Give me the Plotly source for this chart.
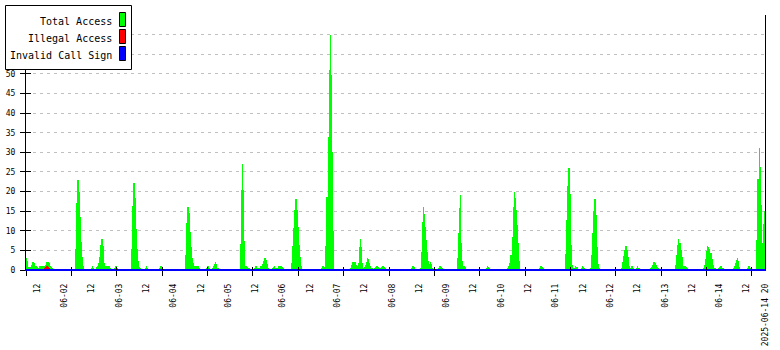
import plotly.graph_objects as go

# ---------------- data ----------------
# time axis: hours since 2025-06-01 00:00
T_START = 7.08
T_END = 332.0
STEP = 0.44          # sample interval in hours
TICK_STEP = 19.95    # spacing of the unlabeled tick marks (hours)

# (start hour, consecutive sample values)
total_segments = [
    (7.30, [3.0, 2.3, 0.8, 0.8, 0.8, 1.4, 2.0, 1.7, 1.1, 1.1, 0.8, 0.3, 0.3,
            1.1, 1.1, 1.1, 1.1, 1.1, 1.1, 1.4, 2.0, 2.0, 1.7, 1.1, 0.8, 0.3]),
    (29.28, [5.4, 17.2, 23.0, 19.8, 13.6, 7.2, 3.2, 1.1]),
    (35.88, [0.6, 1.1, 0.6]),
    (38.08, [0.8, 1.0, 1.8, 3.4, 6.3, 8.0, 6.0, 1.8, 0.6, 1.0, 1.0, 1.0, 1.0, 0.6]),
    (45.99, [0.4, 1.0, 1.0, 0.5]),
    (53.47, [5.4, 16.4, 22.1, 18.3, 10.5, 5.4, 2.4, 0.8, 0.3]),
    (59.62, [0.5, 1.0, 0.6]),
    (65.78, [0.5, 1.0, 0.5]),
    (77.21, [3.8, 12.0, 16.1, 14.5, 9.6, 5.8, 3.0, 1.7, 0.7, 1.0, 1.0, 1.0, 1.0, 0.6]),
    (86.44, [0.3, 1.0, 1.0, 0.6]),
    (89.08, [0.3, 1.0, 1.5, 2.0, 1.5, 0.6]),
    (101.39, [6.6, 20.4, 27.1, 20.4, 7.5, 1.0, 1.0, 0.7, 0.3]),
    (107.55, [0.6, 1.0, 0.6, 0.3, 0.3, 0.6, 1.0, 1.0, 1.6, 2.4, 3.1, 2.6, 1.5, 0.5]),
    (115.46, [0.3, 0.7, 1.0, 0.6, 0.3, 0.6, 1.0, 1.0, 1.0, 0.7, 0.3]),
    (124.25, [1.8, 6.0, 10.6, 15.4, 18.1, 15.3, 10.9, 6.4, 3.2, 1.0]),
    (137.44, [0.5, 1.0, 0.7, 0.4, 6.1, 18.7, 33.8, 51.1, 60.0, 49.8, 30.0, 10.0]),
    (150.19, [0.3, 1.4, 2.0, 2.0, 2.0, 1.4, 1.0, 1.7, 5.9, 8.0, 5.9, 1.8, 0.3,
              0.7, 1.3, 2.1, 3.1, 2.8, 1.8, 0.9, 0.3]),
    (160.31, [0.3, 0.7, 1.0, 0.7, 0.3]),
    (163.38, [0.3, 0.7, 1.0, 0.7, 0.3]),
    (176.58, [0.4, 1.1, 0.8, 0.2]),
    (180.53, [0.4, 4.6, 12.3, 16.1, 14.3, 11.0, 7.7, 4.7, 2.2, 1.5, 2.0, 1.5, 0.6]),
    (188.45, [0.4, 1.0, 0.7, 0.6]),
    (196.80, [3.1, 9.5, 15.8, 19.2, 6.9, 2.4, 0.9, 0.7]),
    (209.55, [0.4, 1.0, 0.7, 0.3]),
    (219.22, [0.3, 0.9, 1.8, 3.8, 8.3, 16.1, 19.9, 18.4, 15.3, 11.5, 6.9, 2.3]),
    (233.29, [0.5, 1.0, 0.7, 0.3]),
    (244.72, [4.1, 12.8, 21.5, 26.1, 19.4, 6.4, 1.3, 0.3, 0.6, 1.0, 0.7, 0.7]),
    (251.32, [0.4, 1.0, 0.8, 0.6]),
    (255.28, [0.4, 3.8, 9.4, 15.1, 18.1, 14.1, 5.9, 1.5, 0.3]),
    (268.91, [0.5, 2.0, 3.6, 5.1, 6.1, 5.1, 3.2, 0.9]),
    (273.30, [0.6, 1.0, 0.6]),
    (275.50, [0.6, 1.0, 0.6, 0.3]),
    (281.66, [0.3, 0.8, 1.3, 2.0, 1.8, 1.2, 0.7, 0.3]),
    (292.65, [1.3, 3.8, 6.4, 7.9, 7.0, 5.1, 3.2, 1.0, 0.5, 1.0, 0.8, 0.5]),
    (304.96, [0.3, 1.3, 2.9, 4.9, 6.1, 5.8, 5.3, 4.3, 2.7, 1.3, 0.6, 0.3]),
    (311.99, [0.3, 0.8, 1.0, 0.6, 0.3]),
    (318.15, [0.5, 1.1, 1.8, 2.5, 3.1, 2.3, 0.8]),
    (324.31, [0.4, 1.0, 0.6, 0.3]),
    (328.70, [7.7, 23.3, 31.2, 26.3, 16.6, 6.9, 11.8, 15.1]),
]

illegal_segments = [
    (15.65, [0.3, 0.8, 0.9, 0.7, 0.3]),
]

invalid_times = [T_START, T_END]
invalid_values = [0, 0]

label_hours = [12, 24, 36, 48, 60, 72, 84, 96, 108, 120, 132, 144, 156, 168,
               180, 192, 204, 216, 228, 240, 252, 264, 276, 288, 300, 312, 324, 332]
label_text = ["12", "06-02", "12", "06-03", "12", "06-04", "12", "06-05", "12",
              "06-06", "12", "06-07", "12", "06-08", "12", "06-09", "12", "06-10",
              "12", "06-11", "12", "06-12", "12", "06-13", "12", "06-14", "12",
              "2025-06-14 20"]

y_ticks = [0, 5, 10, 15, 20, 25, 30, 35, 40, 45, 50, 55, 60, 65]
# labels above 50 sit under the legend box in the reference
y_tick_text = ["0", "5", "10", "15", "20", "25", "30", "35", "40", "45", "50", "", "", ""]

legend_names = ["Total Access", "Illegal Access", "Invalid Call Sign"]
legend_colors = ["#00ff00", "#ff0000", "#0000ff"]


def expand(segments):
    xs, ys = [], []
    for start, vals in segments:
        for i, v in enumerate(vals):
            xs.append(start + i * STEP)
            ys.append(v)
    return xs, ys


tx, ty = expand(total_segments)
ix, iy = expand(illegal_segments)
tick_hours = [T_START + k * TICK_STEP for k in range(17)]

FONT = "DejaVu Sans Mono"

fig = go.Figure()
fig.add_trace(go.Bar(x=tx, y=ty, width=STEP, name=legend_names[0],
                     marker=dict(color=legend_colors[0], line=dict(width=0)),
                     showlegend=False, hoverinfo="x+y"))
fig.add_trace(go.Bar(x=ix, y=iy, width=STEP, name=legend_names[1],
                     marker=dict(color=legend_colors[1], line=dict(width=0)),
                     showlegend=False, hoverinfo="x+y"))
fig.add_trace(go.Scatter(x=invalid_times, y=invalid_values, mode="lines",
                         name=legend_names[2], xaxis="x2", yaxis="y2",
                         line=dict(color=legend_colors[2], width=2),
                         showlegend=False, hoverinfo="skip"))

L, R, T, B = 26, 15, 15, 80
W, H = 780, 350
pw, ph = W - L - R, H - T - B


def px(xp):
    return (xp - L) / pw


def py(yp):
    return (H - B - yp) / ph


shapes = [dict(type="rect", xref="paper", yref="paper", layer="above",
               x0=px(5.5), x1=px(131.5), y0=py(69.5), y1=py(5.5),
               fillcolor="white", line=dict(color="black", width=1))]
annotations = []
for i, (name, col) in enumerate(zip(legend_names, legend_colors)):
    top = 12.5 + 17 * i
    shapes.append(dict(type="rect", xref="paper", yref="paper", layer="above",
                       x0=px(119.5), x1=px(125.5), y0=py(top + 14), y1=py(top),
                       fillcolor=col, line=dict(color="black", width=1)))
    annotations.append(dict(xref="paper", yref="paper", x=px(113.5), y=py(top + 8.5),
                            xanchor="right", yanchor="middle", showarrow=False,
                            text=name, font=dict(family=FONT, size=10, color="black")))

fig.update_layout(
    width=W, height=H,
    margin=dict(l=L, r=R, t=T, b=B, pad=0, autoexpand=False),
    paper_bgcolor="white", plot_bgcolor="white",
    barmode="overlay", bargap=0,
    showlegend=False,
    font=dict(family=FONT, size=8, color="black"),
    shapes=shapes, annotations=annotations,
    xaxis=dict(range=[T_START, T_END], tickmode="array", tickvals=label_hours,
               ticktext=label_text, tickangle=-90, ticks="",
               ticklabelstandoff=11, automargin=False,
               showgrid=False, zeroline=False, showline=False,
               tickfont=dict(family=FONT, size=8, color="black"),
               minor=dict(tickmode="array", tickvals=tick_hours, ticks="outside",
                          ticklen=5, tickwidth=1, tickcolor="black", showgrid=False)),
    xaxis2=dict(range=[T_START, T_END], overlaying="x", anchor="y2",
                tickmode="array", tickvals=tick_hours, ticks="inside", ticklen=3,
                tickwidth=1, tickcolor="black", showticklabels=False, automargin=False,
                showgrid=False, zeroline=False, showline=True,
                linecolor="#0000ff", linewidth=1),
    yaxis=dict(range=[0, 65], tickmode="array", tickvals=y_ticks, ticktext=y_tick_text,
               ticks="outside", ticklen=5, tickwidth=1, tickcolor="black",
               ticklabelstandoff=3, automargin=False,
               showline=True, linecolor="black", linewidth=1, mirror=True,
               showgrid=True, gridcolor="#c0c0c0", gridwidth=1, griddash="3px,4px",
               zeroline=False,
               tickfont=dict(family=FONT, size=8, color="black")),
    yaxis2=dict(range=[0, 65], overlaying="y", anchor="x2", side="left",
                tickmode="array", tickvals=y_ticks, ticks="inside", ticklen=5,
                tickwidth=1, tickcolor="black", showticklabels=False, automargin=False,
                showgrid=False, zeroline=False, showline=False),
)

fig.write_html("out.html")
